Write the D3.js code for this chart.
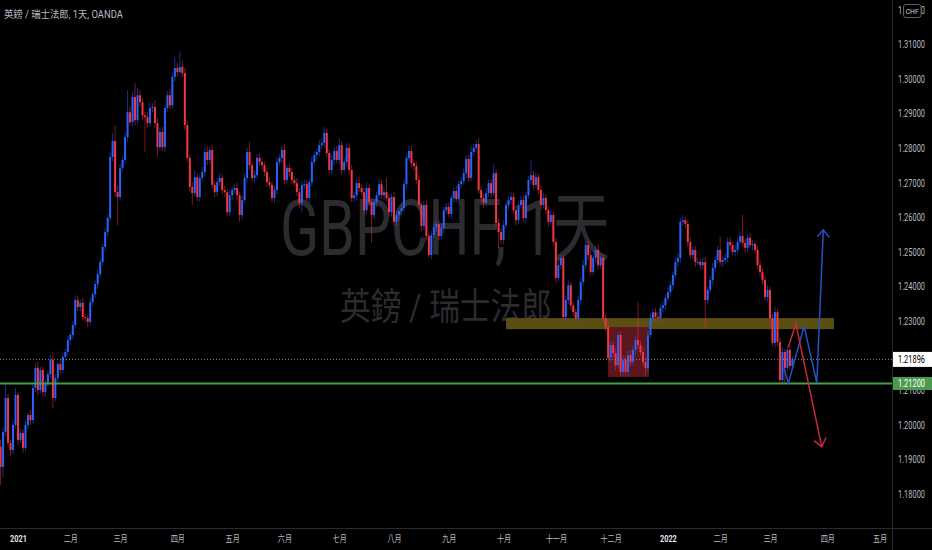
<!DOCTYPE html>
<html><head><meta charset="utf-8">
<script src="https://cdn.jsdelivr.net/npm/d3@7"></script>
<style>html,body{margin:0;padding:0;background:#000;overflow:hidden}</style>
</head><body>
<svg id="c" width="932" height="550"></svg>
<script>
// ---------- DATA ----------
const firstBarDate = "2020-12-23";
const firstOpen = 1.1937;
const closes = [
1.1879,1.1980,1.2078,1.1948,1.1928,1.2000,1.2087,1.1957,1.1977,1.1934,
1.2000,1.2029,1.2014,1.2107,1.2165,1.2101,1.2159,1.2095,1.2121,1.2147,
1.2188,1.2078,1.2136,1.2176,1.2159,1.2197,1.2211,1.2246,1.2260,1.2289,
1.2361,1.2341,1.2353,1.2312,1.2309,1.2298,1.2355,1.2378,1.2407,1.2436,
1.2471,1.2515,1.2558,1.2598,1.2775,1.2821,1.2673,1.2659,1.2743,1.2766,
1.2832,1.2904,1.2875,1.2948,1.2881,1.2953,1.2933,1.2895,1.2890,1.2872,
1.2916,1.2919,1.2872,1.2803,1.2847,1.2803,1.2916,1.2953,1.2924,1.3006,
1.3032,1.3020,1.3035,1.3017,1.2867,1.2772,1.2688,1.2670,1.2716,1.2659,
1.2714,1.2731,1.2789,1.2766,1.2795,1.2694,1.2673,1.2702,1.2714,1.2679,
1.2673,1.2615,1.2664,1.2679,1.2685,1.2664,1.2607,1.2650,1.2714,1.2789,
1.2751,1.2714,1.2722,1.2772,1.2760,1.2751,1.2731,1.2702,1.2694,1.2656,
1.2679,1.2760,1.2772,1.2795,1.2708,1.2743,1.2731,1.2708,1.2699,1.2673,
1.2642,1.2694,1.2696,1.2656,1.2702,1.2760,1.2780,1.2789,1.2809,1.2815,
1.2844,1.2786,1.2737,1.2766,1.2792,1.2766,1.2809,1.2737,1.2760,1.2801,
1.2737,1.2656,1.2664,1.2699,1.2685,1.2673,1.2621,1.2685,1.2644,1.2607,
1.2644,1.2664,1.2696,1.2664,1.2673,1.2656,1.2615,1.2659,1.2587,1.2607,
1.2618,1.2627,1.2696,1.2772,1.2792,1.2757,1.2748,1.2708,1.2636,1.2575,
1.2636,1.2546,1.2491,1.2549,1.2572,1.2581,1.2546,1.2569,1.2621,1.2630,
1.2610,1.2656,1.2676,1.2653,1.2696,1.2705,1.2728,1.2769,1.2714,1.2789,
1.2801,1.2812,1.2679,1.2656,1.2642,1.2670,1.2699,1.2670,1.2728,1.2584,
1.2558,1.2535,1.2578,1.2636,1.2650,1.2659,1.2621,1.2592,1.2636,1.2650,
1.2598,1.2664,1.2708,1.2722,1.2694,1.2716,1.2679,1.2636,1.2656,1.2621,
1.2587,1.2607,1.2529,1.2425,1.2462,1.2483,1.2312,1.2361,1.2404,1.2346,
1.2326,1.2309,1.2361,1.2413,1.2462,1.2520,1.2491,1.2442,1.2483,1.2506,
1.2462,1.2483,1.2309,1.2283,1.2194,1.2231,1.2208,1.2173,1.2260,1.2153,
1.2188,1.2153,1.2202,1.2182,1.2217,1.2246,1.2231,1.2211,1.2182,1.2165,
1.2260,1.2309,1.2326,1.2312,1.2309,1.2338,1.2346,1.2367,1.2384,1.2404,
1.2433,1.2471,1.2483,1.2587,1.2592,1.2581,1.2529,1.2491,1.2506,1.2471,
1.2471,1.2462,1.2471,1.2361,1.2390,1.2419,1.2454,1.2477,1.2506,1.2471,
1.2477,1.2483,1.2529,1.2520,1.2500,1.2506,1.2529,1.2546,1.2526,1.2512,
1.2541,1.2520,1.2523,1.2506,1.2462,1.2442,1.2419,1.2370,1.2390,1.2309,
1.2237,1.2326,1.2240,1.2130,1.2211,1.2165,1.2217,1.2171,1.21896
];
// upper / lower wick lengths in pips
const wickUp = [
20,15,38,12,10,15,20,10,12,10, 12,8,15,10,14,18,10,12,9,10, 14,20,10,8,12,10,9,11,8,10,
14,12,10,15,8,10,12,9,10,12, 10,8,12,10,15,24,46,20,12,10, 14,64,18,15,40,20,15,12,10,14,
16,12,20,15,12,14,10,12,18,12, 32,15,45,20,15,12,10,14,20,12, 10,14,12,18,10,15,12,10,15,10,
12,10,14,10,12,15,10,12,14,12, 29,12,15,10,12,14,10,12,15,10, 12,15,10,12,18,10,14,12,10,15,
12,10,14,12,10,15,12,10,14,12, 17,12,10,15,12,14,20,12,10,14, 12,15,10,12,18,10,12,15,10,14,
12,10,15,12,14,41,12,10,15,12, 10,12,14,12,14,15,10,12,14,10, 12,14,10,12,15,10,12,14,10,12,
14,10,12,15,10,12,14,10,12,15, 12,12,18,10,12,14,10,12,25,10, 12,10,14,12,10,15,12,14,10,12,
14,10,12,44,12,15,10,12,14,10, 12,15,10,12,14,10,8,12,15,10, 12,10,14,12,15,10,12,14,10,12,
14,12,10,12,14,10,12,15,10,12, 14,10,12,15,12,10,109,12,14,10, 12,15,10,12,14,10,12,10,14,12,
10,12,14,12,15,10,12,14,10,12, 14,10,12,15,10,12,14,10,12,40, 10,12,14,12,10,15,12,14,61,12,
10,14,12,10,12,15,10,12,14,10, 12,15,10,12,14,10,12,15,10
];
const wickDn = [
52,30,12,10,15,12,10,15,10,14, 10,12,14,10,12,15,10,12,14,10, 12,30,10,12,14,10,12,10,14,12,
10,12,14,10,12,15,10,12,10,14, 12,10,14,12,10,12,14,81,12,10, 12,14,10,12,15,10,12,14,100,12,
10,12,14,28,10,12,14,10,12,10, 12,14,10,12,15,12,14,34,10,12, 14,10,12,15,12,10,14,12,10,12,
14,12,10,15,12,14,20,12,10,14, 12,10,14,12,10,15,12,14,10,12, 14,12,10,15,12,10,14,12,10,12,
14,29,12,10,14,12,10,15,12,10, 12,14,10,12,15,10,12,14,10,12, 14,12,10,15,12,10,14,12,10,81,
12,14,10,12,15,10,12,14,10,12, 14,10,12,15,10,12,14,10,12,15, 12,14,8,12,10,14,12,10,15,12,
10,14,12,10,15,12,10,14,12,10, 12,14,10,12,15,10,12,14,10,12, 46,14,12,10,15,12,10,14,12,10,
12,14,10,12,15,10,12,14,10,12, 14,10,12,15,10,12,14,10,12,14, 12,11,10,14,12,10,15,12,10,14,
12,10,14,12,10,15,12,14,10,14, 12,10,14,12,10,15,12,10,14,23, 12,10,14,12,10,15,12,14,10,12,
14,10,12,15,10,12,14,10,12,15, 10,12,14,81,12,10,14,12,10,12, 14,10,12,15,10,12,14,10,12,14,
12,10,14,12,10,15,12,10,14,12, 10,14,12,12,12,44,12,10,12
];
const priceTicks = [1.18,1.19,1.20,1.21,1.23,1.24,1.25,1.26,1.27,1.28,1.29,1.30,1.31,1.32];
const monthTickDates = ["2021-01-01","2021-02-01","2021-03-01","2021-04-01","2021-05-03","2021-06-01",
  "2021-07-01","2021-08-02","2021-09-01","2021-10-01","2021-11-01","2021-12-01","2022-01-03",
  "2022-02-01","2022-03-01","2022-04-01","2022-05-02"];
const monthTickLabels = ["2021","二月","三月","四月","五月","六月","七月","八月","九月","十月","十一月","十二月",
  "2022","二月","三月","四月","五月"];
const supportLevel = 1.2120;
const lastPrice = 1.21896;
// drawings: [bar index, price]
const resistZone = [[203.0, 1.2309],[334.7, 1.2277]];
const rangeBox = [[243.9, 1.2283],[260.4, 1.2139]];
const bearPath = [[316.4,1.2226],[319.4,1.2292],[329.8,1.1937]];
const bearHead = [[326.7,1.1955],[329.8,1.1937],[331.5,1.1964]];
const bullPath = [[314.6,1.2164],[316.4,1.2121],[322.7,1.2286],[327.8,1.2122],[330.4,1.2564]];
const bullHead = [[328.0,1.2544],[330.4,1.2564],[332.8,1.2542]];
const titleText = "英鎊 / 瑞士法郎, 1天, OANDA";
const wmLine1 = "GBPCHF, 1天";
const wmLine2 = "英鎊 / 瑞士法郎";

// ---------- CHART ----------
const W = 932, H = 550, plotR = 892, plotB = 528;
const svg = d3.select("#c");
const FONT = "Roboto, 'Noto Sans CJK TC', 'Noto Sans', sans-serif";
svg.append("rect").attr("width", W).attr("height", H).attr("fill", "#000");

// squeeze a text horizontally to a target width (scale about its own origin)
function squeeze(sel, target) {
  sel.each(function () {
    const w = this.getComputedTextLength();
    const t = typeof target === "function" ? target.call(this) : target;
    const s = Math.min(1, t / w);
    const prev = d3.select(this).attr("transform") || "";
    d3.select(this).attr("transform", prev + ` scale(${s},1)`);
  });
}

// trading days (weekdays)
const start = d3.timeParse("%Y-%m-%d")(firstBarDate);
const days = [];
for (let d = new Date(start); days.length < 380; d = d3.timeDay.offset(d, 1)) {
  const wd = d.getDay();
  if (wd !== 0 && wd !== 6) days.push(new Date(d));
}
const fmt = d3.timeFormat("%Y-%m-%d");
const dayIndex = new Map(days.map((d, i) => [fmt(d), i]));

const x = d3.scaleLinear().domain([-0.23, 358]).range([0, plotR]);
const y = d3.scaleLinear().domain([1.20, 1.30]).range([425, 79]);

const bars = closes.map((c, k) => {
  const o = k === 0 ? firstOpen : closes[k - 1];
  return { k, o, c, h: Math.max(o, c) + wickUp[k] / 10000, l: Math.min(o, c) - wickDn[k] / 10000 };
});

// watermark
const wm = svg.append("g").attr("fill", "#2b2b30").attr("font-family", FONT);
wm.append("text").attr("transform", "translate(280,255)").attr("font-size", 77).text(wmLine1).call(squeeze, 330);
wm.append("text").attr("transform", "translate(340,320)").attr("font-size", 37).text(wmLine2).call(squeeze, 212);

const plot = svg.append("g");
// drawings under candles
plot.append("rect")
  .attr("x", x(resistZone[0][0])).attr("y", y(resistZone[0][1]))
  .attr("width", x(resistZone[1][0]) - x(resistZone[0][0]))
  .attr("height", y(resistZone[1][1]) - y(resistZone[0][1]))
  .attr("fill", "#5a4e12");
plot.append("rect")
  .attr("x", x(rangeBox[0][0])).attr("y", y(rangeBox[0][1]))
  .attr("width", x(rangeBox[1][0]) - x(rangeBox[0][0]))
  .attr("height", y(rangeBox[1][1]) - y(rangeBox[0][1]))
  .attr("fill", "#5c161d");

// candles
const up = "#2962ff", dn = "#f23645";
plot.selectAll("line.w").data(bars).join("line")
  .attr("x1", d => x(d.k)).attr("x2", d => x(d.k))
  .attr("y1", d => y(d.h)).attr("y2", d => y(d.l))
  .attr("stroke", d => d.c >= d.o ? up : dn).attr("stroke-opacity", 0.5).attr("stroke-width", 1);
plot.selectAll("rect.b").data(bars).join("rect")
  .attr("x", d => x(d.k) - 1).attr("width", 2)
  .attr("y", d => y(Math.max(d.o, d.c)))
  .attr("height", d => Math.max(1, Math.abs(y(d.o) - y(d.c))))
  .attr("fill", d => d.c >= d.o ? up : dn);

// levels
plot.append("line").attr("x1", 0).attr("x2", plotR).attr("y1", y(lastPrice)).attr("y2", y(lastPrice))
  .attr("stroke", "#8a8c93").attr("stroke-width", 1).attr("stroke-dasharray", "1,2");
plot.append("line").attr("x1", 0).attr("x2", plotR).attr("y1", y(supportLevel)).attr("y2", y(supportLevel))
  .attr("stroke", "#43a047").attr("stroke-width", 2);

// scenario arrows
const line = d3.line().x(d => x(d[0])).y(d => y(d[1]));
plot.append("path").attr("d", line(bullPath)).attr("fill", "none").attr("stroke", "#2750c4").attr("stroke-width", 1.5);
plot.append("path").attr("d", line(bullHead)).attr("fill", "none").attr("stroke", "#2750c4").attr("stroke-width", 1.5);
plot.append("path").attr("d", line(bearPath)).attr("fill", "none").attr("stroke", "#c8283b").attr("stroke-width", 1.5);
plot.append("path").attr("d", line(bearHead)).attr("fill", "none").attr("stroke", "#c8283b").attr("stroke-width", 1.5);

// axes frame
svg.append("rect").attr("x", plotR).attr("y", 0).attr("width", W - plotR).attr("height", H).attr("fill", "#000");
svg.append("rect").attr("x", 0).attr("y", plotB).attr("width", W).attr("height", H - plotB).attr("fill", "#000");
svg.append("line").attr("x1", plotR + 0.5).attr("x2", plotR + 0.5).attr("y1", 0).attr("y2", H).attr("stroke", "#2a2b30");
svg.append("line").attr("x1", 0).attr("x2", W).attr("y1", plotB + 0.5).attr("y2", plotB + 0.5).attr("stroke", "#2a2b30");

// right axis
const yAxis = d3.axisRight(y).tickValues(priceTicks).tickSize(0).tickFormat(d => d.toFixed(5));
const ya = svg.append("g").attr("transform", `translate(898,0)`).call(yAxis);
ya.select(".domain").remove();
ya.selectAll("text").attr("x", 0).attr("fill", "#b8bac2").attr("font-size", 10).attr("font-family", FONT)
  .call(squeeze, 27);

// bottom axis
const tickIdx = monthTickDates.map(s => dayIndex.get(s));
const xAxis = d3.axisBottom(x).tickValues(tickIdx).tickSize(0)
  .tickFormat((d, i) => monthTickLabels[i]);
const xa = svg.append("g").attr("transform", `translate(0,${plotB})`).call(xAxis);
xa.select(".domain").remove();
const isYear = s => /^\d+$/.test(s);
xa.selectAll("text").attr("y", 14.5).attr("dy", 0)
  .attr("font-family", FONT).attr("font-size", 9.5)
  .attr("fill", (d, i) => isYear(monthTickLabels[i]) ? "#e6e7ea" : "#b8bac2")
  .attr("font-weight", (d, i) => isYear(monthTickLabels[i]) ? "bold" : "normal")
  .call(squeeze, function () {
    const s = this.textContent;
    return Array.from(s).reduce((a, ch) => a + (/\d/.test(ch) ? 4.2 : 7.1), 0);
  });

// price labels
const lp = svg.append("g");
lp.append("rect").attr("x", plotR + 1).attr("y", y(lastPrice) - 7.5).attr("width", W - plotR - 1).attr("height", 15).attr("fill", "#ffffff");
lp.append("text").attr("transform", `translate(898,${y(lastPrice) + 3.5})`).attr("font-size", 10).attr("font-family", FONT)
  .attr("fill", "#000").text(lastPrice.toFixed(5)).call(squeeze, 27);
lp.append("rect").attr("x", plotR + 1).attr("y", y(supportLevel) - 6.5).attr("width", W - plotR - 1).attr("height", 13).attr("fill", "#4c9a4f");
lp.append("text").attr("transform", `translate(898,${y(supportLevel) + 3.5})`).attr("font-size", 10).attr("font-family", FONT)
  .attr("fill", "#fff").text(supportLevel.toFixed(5)).call(squeeze, 27);

// currency badge
svg.append("rect").attr("x", 903.5).attr("y", 4.5).attr("width", 17.5).attr("height", 13).attr("rx", 2.5)
  .attr("fill", "#000").attr("stroke", "#5d606b");
svg.append("text").attr("transform", "translate(912.2,14.2)").attr("text-anchor", "middle").attr("font-size", 8)
  .attr("font-family", FONT).attr("fill", "#d1d4dc").text("CHF").call(squeeze, 13);

// title
svg.append("text").attr("transform", "translate(4,18)").attr("font-size", 10).attr("font-family", FONT)
  .attr("fill", "#b8bac2").text(titleText).call(squeeze, 119);
</script>
</body></html>
